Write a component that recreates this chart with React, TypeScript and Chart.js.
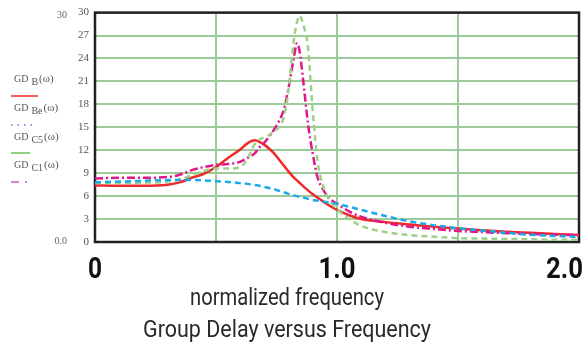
import React, { useEffect, useRef } from "react";
import { Chart, registerables } from "chart.js";

Chart.register(...registerables);

// normalized frequency samples (denser around the resonance)
const freq = [0, 0.1, 0.2, 0.3, 0.35, 0.4, 0.45, 0.5, 0.55, 0.6, 0.63, 0.66, 0.68, 0.7, 0.72, 0.74, 0.76, 0.78, 0.8, 0.82, 0.835, 0.845, 0.86, 0.88, 0.9, 0.92, 0.94, 0.96, 0.98, 1.0, 1.05, 1.1, 1.2, 1.3, 1.4, 1.5, 1.6, 1.7, 1.8, 1.9, 2.0];

// group delay curves
const gdB = [7.4, 7.35, 7.35, 7.5, 7.8, 8.4, 8.9, 9.8, 11.0, 12.1, 12.9, 13.3, 13.1, 12.7, 12.2, 11.6, 10.8, 10.0, 9.2, 8.5, 8.05, 7.75, 7.3, 6.75, 6.25, 5.8, 5.35, 4.95, 4.55, 4.2, 3.5, 3.0, 2.6, 2.3, 2.0, 1.75, 1.55, 1.35, 1.2, 1.05, 0.9];
const gdBe = [7.8, 7.9, 8.0, 8.1, 8.1, 8.1, 8.05, 7.95, 7.85, 7.7, 7.6, 7.45, 7.35, 7.2, 7.05, 6.9, 6.7, 6.5, 6.3, 6.1, 6.0, 5.9, 5.8, 5.65, 5.5, 5.4, 5.3, 5.2, 5.1, 5.0, 4.6, 4.2, 3.4, 2.7, 2.2, 1.8, 1.5, 1.2, 0.95, 0.8, 0.65];
const gdC5 = [7.7, 7.7, 7.75, 7.9, 8.2, 8.7, 9.3, 9.6, 9.6, 9.8, 10.9, 12.8, 13.4, 13.7, 14.0, 14.5, 15.0, 16.3, 20.0, 26.0, 28.8, 29.6, 28.5, 25.5, 17.0, 10.5, 7.6, 6.0, 5.0, 4.3, 3.0, 2.1, 1.3, 0.9, 0.7, 0.5, 0.45, 0.4, 0.35, 0.3, 0.3];
const gdC1 = [8.3, 8.4, 8.4, 8.5, 8.8, 9.4, 9.8, 10.1, 10.2, 10.5, 11.0, 11.6, 12.4, 13.0, 13.8, 14.7, 15.8, 17.3, 20.2, 23.8, 26.0, 25.0, 21.2, 15.5, 11.5, 8.4, 7.0, 6.0, 5.4, 5.0, 4.0, 3.3, 2.5, 2.0, 1.7, 1.45, 1.3, 1.15, 1.05, 0.95, 0.9];

// axis text
const xTickValues = [0, 1, 2];
const xTickLabels = ["0", "1.0", "2.0"];
const xAxisTitle = "normalized frequency";
const chartTitle = "Group Delay versus Frequency";
const legendNames = [
  { base: "GD", sub: "B" },
  { base: "GD", sub: "Be" },
  { base: "GD", sub: "C5" },
  { base: "GD", sub: "C1" },
];

const GRID = "#9ccb98";
const RED = "#ee2a2a";
const BLUE = "#19a9ec";
const GREEN = "#9fd08a";
const PINK = "#e0168a";

const toPoints = (ys: number[]) => freq.map((x, i) => ({ x, y: ys[i] }));

const decorPlugin = {
  id: "decor",
  beforeDatasetsDraw(chart: any) {
    const { ctx, chartArea } = chart;
    ctx.save();
    ctx.strokeStyle = "#222";
    ctx.lineWidth = 2.5;
    ctx.strokeRect(chartArea.left, chartArea.top, chartArea.right - chartArea.left, chartArea.bottom - chartArea.top);
    ctx.restore();
  },
  afterDraw(chart: any) {
    const { ctx, scales, width } = chart;
    const xs = scales.x;
    ctx.save();

    // x tick labels
    ctx.fillStyle = "#111";
    ctx.font = 'bold 30px "Liberation Sans Narrow", Roboto, sans-serif';
    ctx.textBaseline = "middle";
    xTickValues.forEach((v, i) => {
      const label = xTickLabels[i];
      const px = xs.getPixelForValue(v);
      const w = Math.min(ctx.measureText(label).width, label.length === 1 ? 14 : 37);
      let left = px - w / 2;
      if (left + w > width - 1) left = width - 1 - w;
      ctx.textAlign = "left";
      ctx.fillText(label, left, 270, w);
    });

    // axis title and chart title
    ctx.fillStyle = "#2a2a2a";
    ctx.textAlign = "center";
    ctx.font = '23px "Liberation Sans Narrow", Roboto, sans-serif';
    ctx.fillText(xAxisTitle, 287, 299, 194);
    ctx.fillText(chartTitle, 287, 331, 288);

    // stray axis limits on the far left
    ctx.fillStyle = "#666";
    ctx.font = '10px "Liberation Serif", serif';
    ctx.textAlign = "right";
    ctx.fillText("30", 67, 15);
    ctx.fillText("0.0", 67, 241);

    // legend entries
    const entryY = [79, 108, 137, 165];
    legendNames.forEach((n, i) => {
      const y = entryY[i];
      ctx.textAlign = "left";
      ctx.fillStyle = "#555";
      ctx.font = '10px "Liberation Serif", serif';
      ctx.fillText(n.base, 14, y);
      const bw = ctx.measureText(n.base).width;
      ctx.font = '10px "Liberation Serif", serif';
      ctx.fillText(n.sub, 14 + bw + 3, y + 3);
      const sw = ctx.measureText(n.sub).width;
      ctx.font = '11px "Liberation Serif", serif';
      ctx.fillText("(ω)", 14 + bw + 3 + sw + 1, y);
    });

    ctx.lineCap = "butt";
    // red solid
    ctx.strokeStyle = RED;
    ctx.lineWidth = 1.5;
    ctx.setLineDash([]);
    ctx.beginPath();
    ctx.moveTo(11, 96);
    ctx.lineTo(38, 96);
    ctx.stroke();
    // blue dots
    ctx.strokeStyle = "#6a6ae0";
    ctx.lineWidth = 1.5;
    ctx.setLineDash([1.5, 5]);
    ctx.beginPath();
    ctx.moveTo(11, 125);
    ctx.lineTo(34, 125);
    ctx.stroke();
    // green solid
    ctx.strokeStyle = "#8fcf80";
    ctx.lineWidth = 2;
    ctx.setLineDash([]);
    ctx.beginPath();
    ctx.moveTo(11, 153);
    ctx.lineTo(30, 153);
    ctx.stroke();
    // pink dash-dot
    ctx.strokeStyle = "#e080c8";
    ctx.lineWidth = 2;
    ctx.setLineDash([8, 6, 2, 6]);
    ctx.beginPath();
    ctx.moveTo(11, 182);
    ctx.lineTo(31, 182);
    ctx.stroke();

    ctx.restore();
  },
};

export default function App() {
  const canvasRef = useRef<HTMLCanvasElement | null>(null);

  useEffect(() => {
    const canvas = canvasRef.current;
    if (!canvas) return;
    const chart = new Chart(canvas, {
      type: "line",
      data: {
        datasets: [
          {
            label: "GD_Be",
            data: toPoints(gdBe),
            borderColor: BLUE,
            borderWidth: 2.5,
            borderDash: [6, 4],
            pointRadius: 0,
            cubicInterpolationMode: "monotone",
          },
          {
            label: "GD_C5",
            data: toPoints(gdC5),
            borderColor: GREEN,
            borderWidth: 2.5,
            borderDash: [6, 4],
            pointRadius: 0,
            cubicInterpolationMode: "monotone",
          },
          {
            label: "GD_C1",
            data: toPoints(gdC1),
            borderColor: PINK,
            borderWidth: 2.5,
            borderDash: [8, 3, 2, 3],
            pointRadius: 0,
            cubicInterpolationMode: "monotone",
          },
          {
            label: "GD_B",
            data: toPoints(gdB),
            borderColor: RED,
            borderWidth: 2.5,
            pointRadius: 0,
            cubicInterpolationMode: "monotone",
          },
        ],
      },
      options: {
        responsive: false,
        animation: false,
        layout: { padding: { left: 0, top: 7, right: 5, bottom: 107 } },
        plugins: { legend: { display: false }, tooltip: { enabled: false } },
        scales: {
          x: {
            type: "linear",
            min: 0,
            max: 2,
            ticks: { display: false, stepSize: 0.5 },
            grid: { color: GRID, lineWidth: 2, drawTicks: false },
            border: { display: false },
          },
          y: {
            min: 0,
            max: 30,
            afterFit: (s: any) => {
              s.width = 95;
            },
            ticks: {
              stepSize: 3,
              padding: 6,
              color: "#555",
              font: { family: '"Liberation Serif", serif', size: 11 },
            },
            grid: { color: GRID, lineWidth: 2, drawTicks: false },
            border: { display: false },
          },
        },
      },
      plugins: [decorPlugin],
    });
    return () => chart.destroy();
  }, []);

  return (
    <div style={{ position: "absolute", left: 0, top: 0, width: 584, height: 349, background: "#fff" }}>
      <canvas ref={canvasRef} width={584} height={349} style={{ display: "block" }} />
    </div>
  );
}
